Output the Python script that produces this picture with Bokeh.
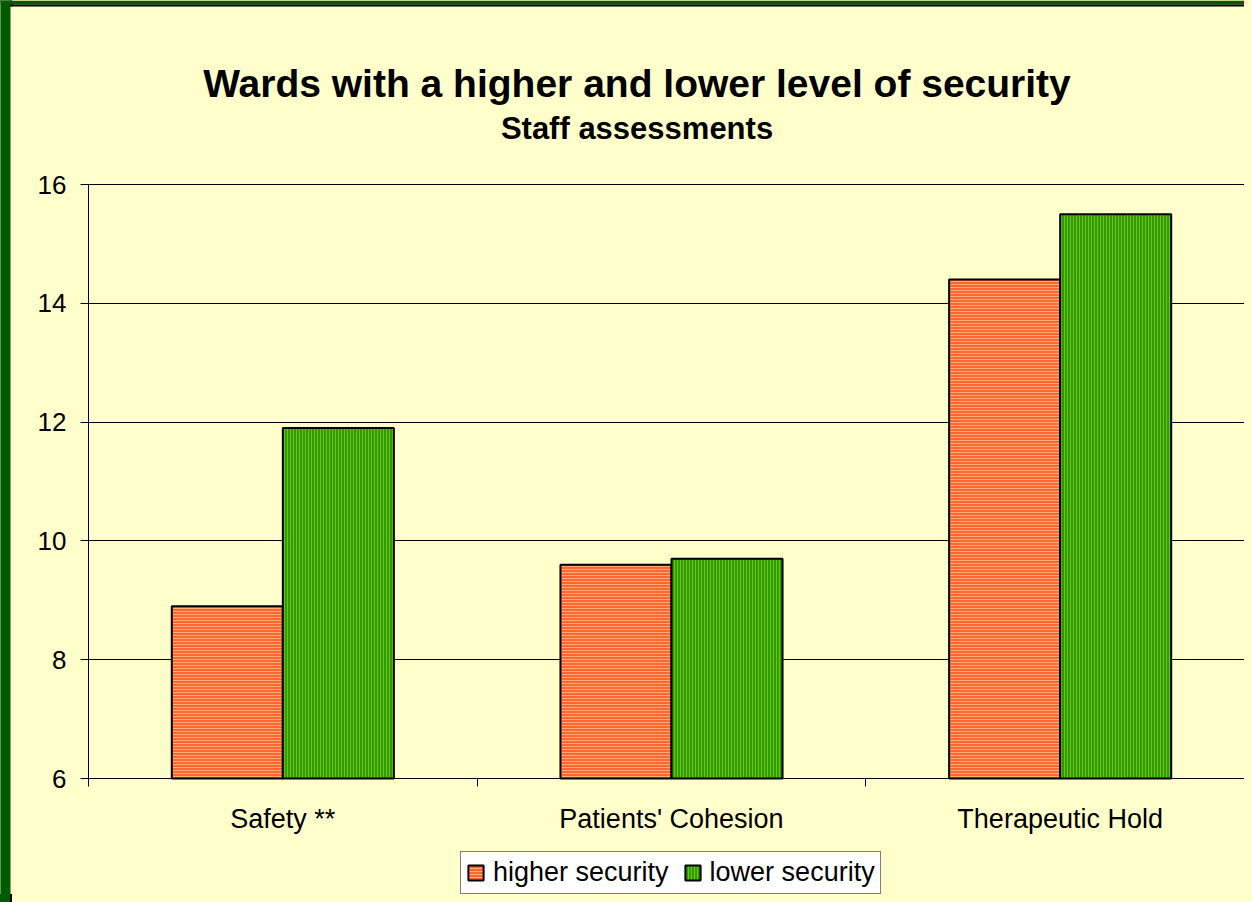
from bokeh.plotting import figure
from bokeh.models import (Range1d, FixedTicker, Label, GlobalInlineStyleSheet,
                          ColumnDataSource, Legend, LegendItem, BoxAnnotation)
from bokeh.embed import file_html
from bokeh.resources import INLINE
import numpy as np

# ---- data ----
categories = ["Safety **", "Patients' Cohesion", "Therapeutic Hold"]
higher_security = [8.9, 9.6, 14.4]
lower_security = [11.9, 9.7, 15.5]
y_ticks = [6, 8, 10, 12, 14, 16]
series_names = ["higher security", "lower security"]
title_text = "Wards with a higher and lower level of security"
subtitle_text = "Staff assessments"

# ---- style / layout (pixels) ----
BG = "#FFFFCC"
DARK_GREEN = "#005a00"
FONT = "Liberation Sans"
ORANGE, ORANGE_HATCH = "#FF6633", "#FFAA70"
GREEN, GREEN_HATCH = "#339900", "#66CC00"
W, H = 1244, 894
AX_LEFT_PX, AX_RIGHT_PX = 88, 1254      # x = 0 and x = n
AX_TOP_PX, AX_BOTTOM_PX = 184, 778      # y = 16 and y = 6

n = len(categories)
y0, y1 = y_ticks[0], y_ticks[-1]
ppx = (AX_RIGHT_PX - AX_LEFT_PX) / n
ppy = (AX_BOTTOM_PX - AX_TOP_PX) / (y1 - y0)
x_range = Range1d(-AX_LEFT_PX / ppx, (W - AX_LEFT_PX) / ppx)
y_range = Range1d(y0 - (H - AX_BOTTOM_PX) / ppy, y1 + AX_TOP_PX / ppy)

def px_to_y(py):
    return y1 + (AX_TOP_PX - py) / ppy

def px_to_x(px):
    return (px - AX_LEFT_PX) / ppx

page_css = GlobalInlineStyleSheet(css="""
html, body {
  background: linear-gradient(to right, #005a00 0px, #005a00 10px, #000000 10px, #000000 12px, #FFFFCC 12px);
}
""")

p = figure(width=W, height=H, output_backend="svg", toolbar_location=None,
           x_range=x_range, y_range=y_range, min_border=0,
           min_border_left=0, min_border_right=0, min_border_top=0,
           min_border_bottom=0,
           background_fill_color=BG, border_fill_color=BG, outline_line_color=None)
p.stylesheets = [page_css]

# frame of the slide: green strips with a black inner line
p.add_layout(BoxAnnotation(left=0, right=10, left_units="screen", right_units="screen",
                           fill_color=DARK_GREEN, fill_alpha=1, line_alpha=0))
p.add_layout(BoxAnnotation(left=10, right=12, left_units="screen", right_units="screen",
                           bottom=px_to_y(6), fill_color="black", fill_alpha=1, line_alpha=0))
p.add_layout(BoxAnnotation(bottom=px_to_y(4), fill_color=DARK_GREEN, fill_alpha=1, line_alpha=0))
p.add_layout(BoxAnnotation(left=10, left_units="screen", bottom=px_to_y(6), top=px_to_y(4),
                           fill_color="black", fill_alpha=1, line_alpha=0))

centers = np.arange(n) + 0.5
bar_w = 0.2857
src = ColumnDataSource(dict(
    x_hi=centers - bar_w / 2, x_lo=centers + bar_w / 2,
    hi=higher_security, lo=lower_security))

r_hi = p.vbar(x="x_hi", top="hi", bottom=y0, width=bar_w, source=src,
              fill_color=ORANGE, hatch_pattern="horizontal_line",
              hatch_color=ORANGE_HATCH, hatch_scale=3, hatch_weight=1,
              line_color="black", line_width=2)
r_lo = p.vbar(x="x_lo", top="lo", bottom=y0, width=bar_w, source=src,
              fill_color=GREEN, hatch_pattern="vertical_line",
              hatch_color=GREEN_HATCH, hatch_scale=3, hatch_weight=1,
              line_color="black", line_width=2)

# x axis: labels at category centres, tick marks at boundaries
xa = p.xaxis[0]
xa.fixed_location = y0
xa.bounds = (0, n)
xa.ticker = FixedTicker(ticks=list(centers), minor_ticks=list(range(n + 1)))
xa.major_label_overrides = {float(c): name for c, name in zip(centers, categories)}
xa.major_tick_out = 0
xa.major_tick_in = 0
xa.minor_tick_out = 8
xa.minor_tick_in = 0
xa.minor_tick_line_color = "black"
xa.axis_line_color = "black"
xa.major_label_text_font = FONT
xa.major_label_text_font_size = "27px"
xa.major_label_text_color = "black"
xa.major_label_standoff = 17

ya = p.yaxis[0]
ya.fixed_location = 0
ya.bounds = (y0, y1)
ya.ticker = FixedTicker(ticks=y_ticks, minor_ticks=[])
ya.major_tick_out = 8
ya.major_tick_in = 0
ya.major_tick_line_color = "black"
ya.minor_tick_out = 0
ya.axis_line_color = "black"
ya.major_label_text_font = FONT
ya.major_label_text_font_size = "26px"
ya.major_label_text_color = "black"
ya.major_label_standoff = 14

p.xgrid.visible = False
p.ygrid.grid_line_color = "black"
p.ygrid.grid_line_width = 1
p.ygrid.cross_bounds = (0, n)

p.add_layout(Label(x=px_to_x(636.5), y=px_to_y(83), text=title_text, text_align="center",
                   text_baseline="alphabetic", text_font=FONT,
                   text_font_style="bold", text_font_size="39px",
                   text_color="black"))
p.add_layout(Label(x=px_to_x(636.5), y=px_to_y(128), text=subtitle_text, text_align="center",
                   text_baseline="alphabetic", text_font=FONT,
                   text_font_style="bold", text_font_size="31px",
                   text_color="black"))

legend = Legend(items=[LegendItem(label=series_names[0], renderers=[r_hi]),
                       LegendItem(label=series_names[1], renderers=[r_lo])],
                location=(460, 0), orientation="horizontal",
                glyph_width=19, glyph_height=19, label_standoff=8, spacing=14,
                padding=5, margin=0, border_line_color="black",
                border_line_width=1, background_fill_color="white",
                background_fill_alpha=1, label_text_font=FONT,
                label_text_font_size="27px", label_text_color="black")
p.add_layout(legend, "center")

open("out.html", "w").write(file_html(p, INLINE))
